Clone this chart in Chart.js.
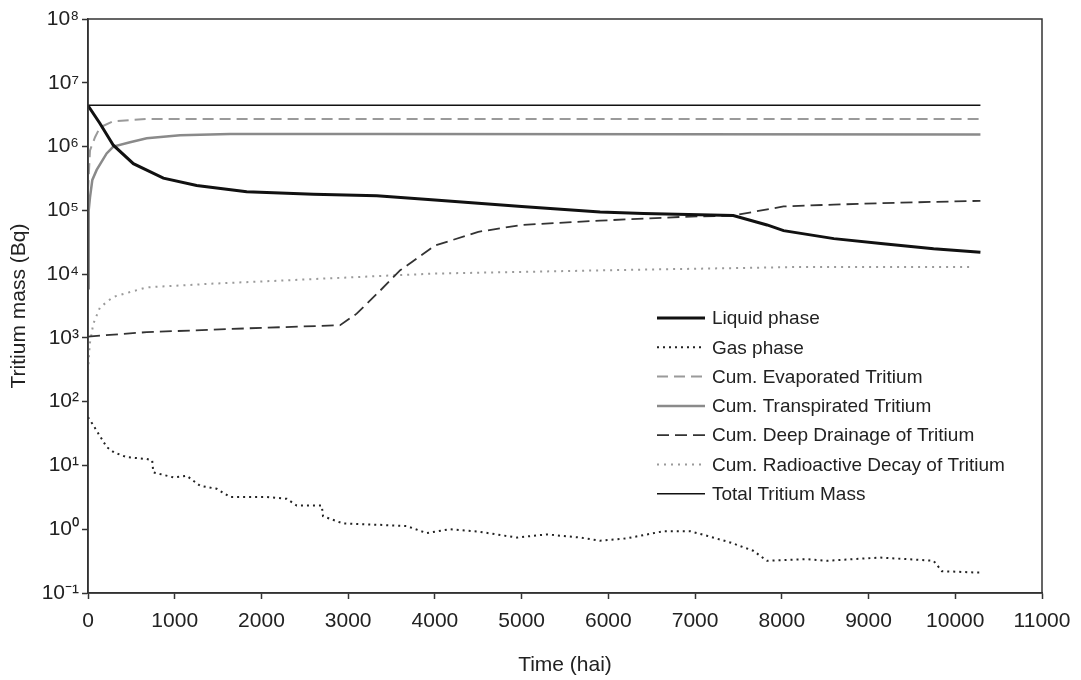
<!DOCTYPE html>
<html>
<head>
<meta charset="utf-8">
<script src="https://cdn.jsdelivr.net/npm/chart.js@4.4.1/dist/chart.umd.min.js"></script>
<style>
  html, body { margin: 0; padding: 0; background: #fff; }
  #wrap { width: 1081px; height: 680px; position: relative; }
</style>
</head>
<body>
<div id="wrap"><canvas id="massChart"></canvas></div>
<script>
// time (hai) and tritium mass (Bq) for each compartment
const tLiquid = [0, 138, 292, 523, 869, 1253, 1830, 2599, 3330, 4000, 5000, 5905, 6405, 7440, 7830, 8020, 8600, 9170, 9750, 10290];
const vLiquid = [4.4e6, 2.3e6, 1.05e6, 5.4e5, 3.2e5, 2.45e5, 1.95e5, 1.78e5, 1.7e5, 1.45e5, 1.15e5, 9.4e4, 8.9e4, 8.3e4, 5.9e4, 4.8e4, 3.6e4, 3.0e4, 2.5e4, 2.2e4];

const tGas = [0, 50, 100, 215, 300, 446, 677, 740, 753, 984, 1138, 1292, 1484, 1638, 2061, 2292, 2407, 2695, 2710, 2940, 3370, 3675, 3906, 4175, 4520, 4944, 5290, 5675, 5905, 6213, 6636, 6943, 7136, 7405, 7670, 7830, 8290, 8520, 9135, 9750, 9846, 10210, 10290];
const vGas = [57, 45, 35, 19.5, 16, 13.5, 12.6, 12, 7.8, 6.5, 6.9, 4.8, 4.3, 3.2, 3.2, 3.0, 2.35, 2.35, 1.6, 1.23, 1.17, 1.12, 0.87, 1.0, 0.91, 0.74, 0.83, 0.74, 0.66, 0.72, 0.93, 0.93, 0.79, 0.62, 0.46, 0.32, 0.34, 0.32, 0.36, 0.32, 0.22, 0.21, 0.21];

const tEvap = [0, 23, 81, 138, 290, 677, 10290];
const vEvap = [2e5, 8.7e5, 1.4e6, 2.0e6, 2.5e6, 2.7e6, 2.7e6];

const tTransp = [0, 8, 23, 50, 100, 215, 292, 485, 677, 1061, 1638, 3368, 10290];
const vTransp = [6e3, 1e5, 1.6e5, 3e5, 4.3e5, 7.8e5, 1.0e6, 1.17e6, 1.35e6, 1.5e6, 1.57e6, 1.58e6, 1.55e6];

const tDrain = [0, 677, 1830, 2907, 3098, 3368, 3600, 4000, 4500, 5000, 5905, 6860, 7440, 8020, 8600, 9370, 10290];
const vDrain = [1.05e3, 1.23e3, 1.41e3, 1.58e3, 2.4e3, 5.5e3, 1.15e4, 2.8e4, 4.6e4, 5.9e4, 6.9e4, 7.9e4, 8.3e4, 1.15e5, 1.23e5, 1.32e5, 1.41e5];

const tDecay = [0, 20, 61, 138, 292, 677, 1446, 2215, 3330, 4000, 6000, 8130, 10210];
const vDecay = [3e2, 8e2, 1.66e3, 3.0e3, 4.4e3, 6.2e3, 7.1e3, 7.9e3, 9.3e3, 1.02e4, 1.15e4, 1.29e4, 1.29e4];

const tTotal = [0, 10290];
const vTotal = [4.45e6, 4.45e6];

const xTicks = [0, 1000, 2000, 3000, 4000, 5000, 6000, 7000, 8000, 9000, 10000, 11000];
const yExponents = [-1, 0, 1, 2, 3, 4, 5, 6, 7, 8];

const FONT = "'Liberation Sans', Arial, Helvetica, sans-serif";
const SUP = { '-': '\u207B', '0': '\u2070', '1': '\u00B9', '2': '\u00B2', '3': '\u00B3', '4': '\u2074', '5': '\u2075', '6': '\u2076', '7': '\u2077', '8': '\u2078', '9': '\u2079' };

function pairs(ts, vs) {
  return ts.map((t, i) => ({ x: t, y: vs[i] }));
}

function series(label, ts, vs, color, width, dash) {
  return {
    label: label,
    data: pairs(ts, vs),
    borderColor: color,
    borderWidth: width,
    borderDash: dash,
    pointRadius: 0,
    fill: false,
    tension: 0
  };
}

// frame around the plot and the legend inside it
const framePlugin = {
  id: 'frame',
  afterDraw(chart, args, opts) {
    const { ctx, chartArea: a } = chart;
    ctx.save();
    ctx.strokeStyle = '#333';
    ctx.lineWidth = 1.5;
    ctx.strokeRect(a.left, a.top, a.right - a.left, a.bottom - a.top);

    const lx = opts.x, ly = opts.y, gap = opts.rowGap;
    ctx.font = opts.fontSize + 'px ' + FONT;
    ctx.textBaseline = 'middle';
    chart.data.datasets.forEach((ds, i) => {
      const y = ly + i * gap;
      ctx.strokeStyle = ds.borderColor;
      ctx.lineWidth = ds.borderWidth;
      ctx.setLineDash(ds.borderDash || []);
      ctx.beginPath();
      ctx.moveTo(lx, y);
      ctx.lineTo(lx + opts.lineLen, y);
      ctx.stroke();
      ctx.setLineDash([]);
      ctx.fillStyle = '#222';
      ctx.fillText(ds.label, lx + opts.lineLen + 7, y + 1);
    });
    ctx.restore();
  }
};

new Chart(document.getElementById('massChart').getContext('2d'), {
  type: 'line',
  data: {
    datasets: [
      series('Liquid phase', tLiquid, vLiquid, '#111', 3, []),
      series('Gas phase', tGas, vGas, '#222', 2, [2, 4]),
      series('Cum. Evaporated Tritium', tEvap, vEvap, '#9a9a9a', 2, [11, 6]),
      series('Cum. Transpirated Tritium', tTransp, vTransp, '#8a8a8a', 2.5, []),
      series('Cum. Deep Drainage of Tritium', tDrain, vDrain, '#333', 1.8, [12, 6]),
      series('Cum. Radioactive Decay of Tritium', tDecay, vDecay, '#9a9a9a', 2, [2, 5]),
      series('Total Tritium Mass', tTotal, vTotal, '#111', 1.5, [])
    ]
  },
  options: {
    responsive: true,
    maintainAspectRatio: false,
    animation: false,
    events: [],
    layout: { padding: { top: 19, right: 39, left: 0, bottom: 0 } },
    plugins: {
      legend: { display: false },
      tooltip: { enabled: false },
      frame: { x: 657, y: 318, rowGap: 29.3, lineLen: 48, fontSize: 19 }
    },
    scales: {
      x: {
        type: 'linear',
        min: 0,
        max: 11000,
        afterBuildTicks: (scale) => { scale.ticks = xTicks.map(v => ({ value: v })); },
        afterFit: (scale) => { scale.height = 87; },
        grid: { drawOnChartArea: false, drawTicks: true, tickLength: 6, tickWidth: 1.5, color: '#333' },
        border: { display: true, color: '#333', width: 1.5 },
        ticks: { color: '#222', font: { family: FONT, size: 21 }, padding: 10, maxRotation: 0, callback: (value) => String(value) },
        title: { display: true, text: 'Time (hai)', color: '#222', font: { family: FONT, size: 21 }, padding: { top: 0, bottom: 2 } }
      },
      y: {
        type: 'logarithmic',
        min: 0.1,
        max: 1e8,
        afterBuildTicks: (scale) => { scale.ticks = yExponents.map(e => ({ value: Math.pow(10, e) })); },
        afterFit: (scale) => { scale.width = 88; },
        grid: { drawOnChartArea: false, drawTicks: true, tickLength: 6, tickWidth: 1.5, color: '#333' },
        border: { display: true, color: '#333', width: 1.5 },
        ticks: {
          color: '#222',
          font: { family: FONT, size: 21 },
          padding: 3,
          callback: (value) => {
            const e = String(Math.round(Math.log10(value)));
            return '10' + e.split('').map(c => SUP[c]).join('');
          }
        },
        title: { display: true, text: 'Tritium mass (Bq)', color: '#222', font: { family: FONT, size: 21 }, padding: { top: 7, bottom: 0 } }
      }
    }
  },
  plugins: [framePlugin]
});
</script>
</body>
</html>
